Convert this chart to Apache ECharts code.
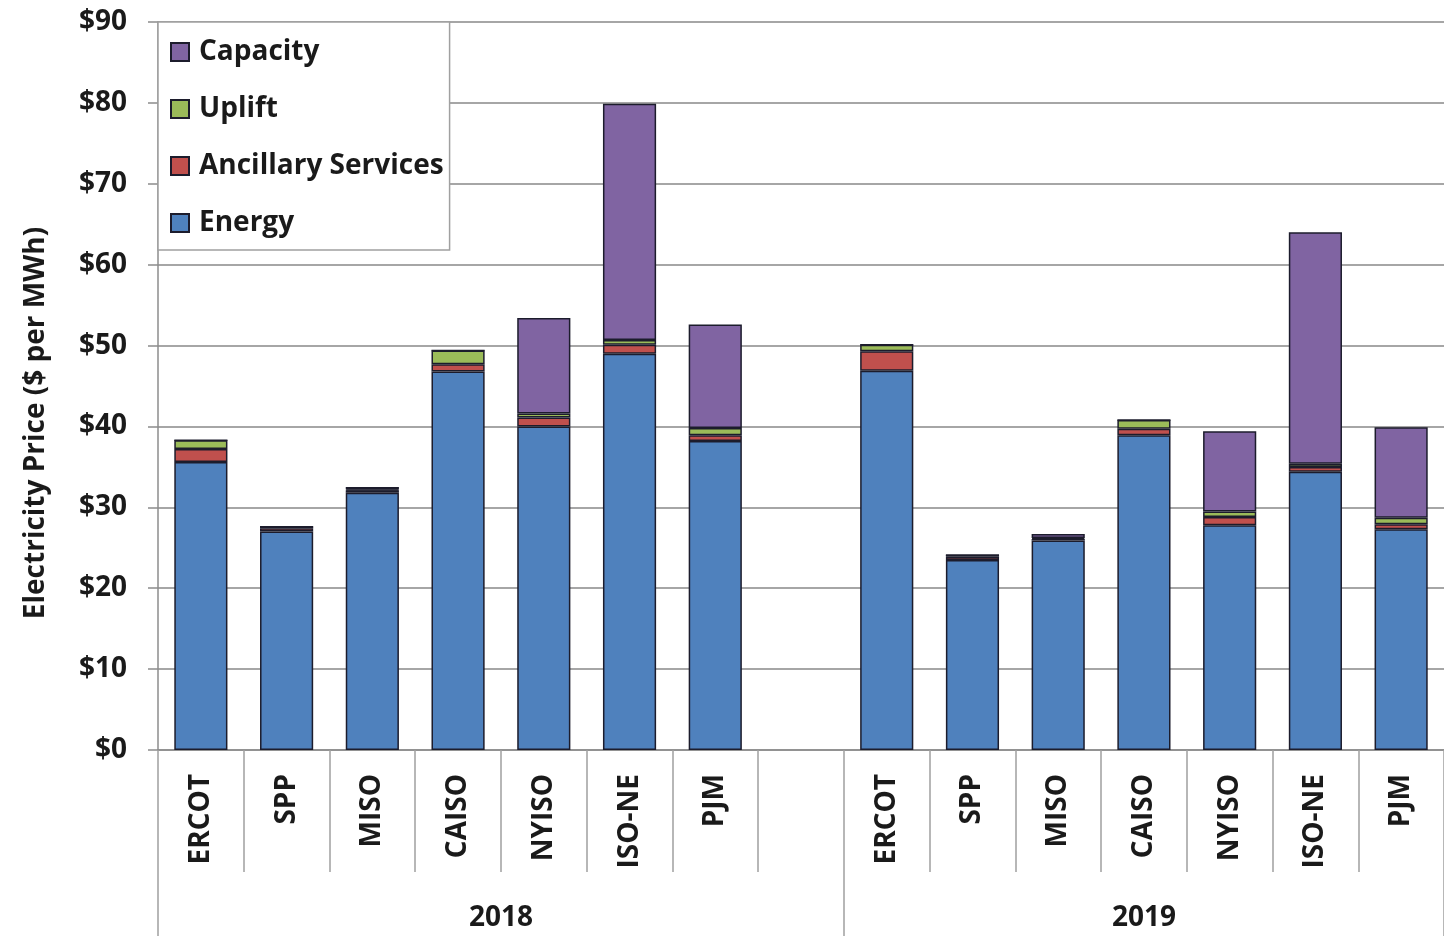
<!DOCTYPE html>
<html>
<head>
<meta charset="utf-8">
<script src="https://cdn.jsdelivr.net/npm/echarts@6/dist/echarts.min.js"></script>
<style>html,body{margin:0;padding:0;background:#fff}#c{width:1444px;height:936px}</style>
</head>
<body>
<div id="c"></div>
<script>
const categories = ['ERCOT','SPP','MISO','CAISO','NYISO','ISO-NE','PJM','','ERCOT','SPP','MISO','CAISO','NYISO','ISO-NE','PJM'];
const years = ['2018','2019'];
const energy    = [35.6, 27.0, 31.8, 46.8, 40.0, 49.0, 38.2, null, 46.9, 23.5, 25.9, 38.9, 27.8, 34.4, 27.3];
const ancillary = [1.6, 0.4, 0.3, 0.9, 1.1, 1.1, 0.7, null, 2.4, 0.4, 0.2, 0.8, 1.0, 0.6, 0.6];
const uplift    = [1.1, 0.2, 0.1, 1.7, 0.5, 0.6, 0.9, null, 0.8, 0.2, 0.1, 1.1, 0.7, 0.4, 0.8];
const capacity  = [0, 0, 0.3, 0, 11.8, 29.2, 12.8, null, 0, 0, 0.5, 0, 9.9, 28.6, 11.2];
const yTicks = [0,10,20,30,40,50,60,70,80,90];

// half-slot boundary axis for year labels
const yearAxisData = [];
for (let i = 0; i <= 30; i++) yearAxisData.push('');
yearAxisData[8] = years[0];
yearAxisData[23] = years[1];

const FONT = '"Open Sans", "Noto Sans", sans-serif';
const TXT = '#1a1a1a';
const chart = echarts.init(document.getElementById('c'), null, {renderer: 'canvas'});
const border = {borderColor: '#1c1c2c', borderWidth: 1.5};
function mk(name, data, color) {
  return {
    name, type: 'bar', stack: 'total', data, barWidth: '62%',
    itemStyle: Object.assign({color}, border),
    emphasis: {disabled: true}
  };
}
chart.setOption({
  animation: false,
  backgroundColor: '#fff',
  grid: {left: 158, right: -3, top: 22, bottom: 186, containLabel: false},
  legend: {
    orient: 'vertical', left: 158, top: 22,
    data: ['Capacity','Uplift','Ancillary Services','Energy'],
    backgroundColor: '#fff', borderColor: '#a0a0a0', borderWidth: 1.5,
    padding: [16, 6, 13, 12], itemGap: 29, itemWidth: 18, itemHeight: 18,
    icon: 'rect',
    textStyle: {fontFamily: FONT, fontWeight: 'bold', fontSize: 28, color: TXT, padding: [0,0,0,5]},
    selectedMode: false
  },
  xAxis: [{
    type: 'category', data: categories, position: 'bottom',
    axisLine: {show: true, lineStyle: {color: '#8c8c8c', width: 1.5}},
    axisTick: {show: true, length: 122, interval: 0, lineStyle: {color: '#a0a0a0', width: 1.5}},
    axisLabel: {interval: 0, rotate: 90, margin: 24, fontFamily: FONT, fontWeight: 'bold', fontSize: 28, color: TXT},
    splitLine: {show: false}
  }, {
    type: 'category', data: yearAxisData, position: 'bottom', boundaryGap: false,
    axisLine: {show: false},
    axisTick: {show: true, length: 190, interval: function (i) { return i === 0 || i === 16 || i === 30; }, lineStyle: {color: '#a0a0a0', width: 1.5}},
    axisLabel: {interval: function (i, v) { return v !== ''; }, margin: 154, fontFamily: FONT, fontWeight: 'bold', fontSize: 28, color: TXT},
    splitLine: {show: false}
  }],
  yAxis: {
    type: 'value', min: yTicks[0], max: yTicks[yTicks.length-1], interval: 10,
    name: 'Electricity Price ($ per MWh)', nameLocation: 'middle', nameGap: 108,
    nameTextStyle: {fontFamily: FONT, fontWeight: 'bold', fontSize: 28, color: TXT, padding: [0, 74, 0, 0]},
    axisLine: {show: true, lineStyle: {color: '#8c8c8c', width: 1.5}},
    axisTick: {show: true, length: 10, lineStyle: {color: '#8c8c8c', width: 1.5}},
    axisLabel: {formatter: function (v) { return '$' + v; }, margin: 31, fontFamily: FONT, fontWeight: 'bold', fontSize: 28, color: TXT},
    splitLine: {show: true, lineStyle: {color: '#a6a6a6', width: 2}}
  },
  series: [
    mk('Energy', energy, '#4f81bd'),
    mk('Ancillary Services', ancillary, '#c0504d'),
    mk('Uplift', uplift, '#9bbb59'),
    mk('Capacity', capacity, '#8064a2')
  ]
});
</script>
</body>
</html>
